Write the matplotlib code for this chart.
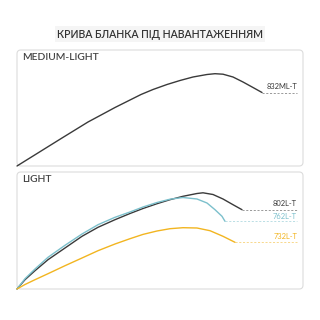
import matplotlib
matplotlib.use("Agg")
import matplotlib.pyplot as plt
from matplotlib.patches import FancyBboxPatch

# Blank bend curves (x along rod, y = rise), box-relative px
ml_x = [0, 8, 18, 31, 45, 58, 71, 85, 98, 111, 124, 136, 150, 163, 176, 190,
        198, 206, 216, 226, 236, 245]
ml_y = [0, 5, 11.2, 19.3, 28, 36, 44, 51.5, 58.5, 65, 71.5, 76.5, 81.5, 85.5,
        89, 91.5, 92.3, 91.8, 89, 84, 78.5, 73.5]

l802_x = [0, 8, 18, 31, 48, 65, 81, 98, 113, 126, 140, 153, 166, 180, 186,
          196, 206, 216, 225]
l802_y = [0, 9.3, 18.3, 29.3, 41, 52.7, 61.7, 69.3, 75.5, 80.5, 85.3, 89.3,
          92.7, 95.5, 96.2, 94.5, 90, 84.3, 79.3]
l762_x = [0, 8, 18, 31, 48, 65, 81, 98, 113, 126, 140, 153, 166, 180, 190,
          198, 205, 208]
l762_y = [0, 10.3, 20, 31.7, 43.7, 55, 64.3, 71.7, 77, 82, 86.5, 89.8, 91.5,
          90, 86, 79.3, 72.7, 67.7]
l732_x = [0, 8, 18, 31, 48, 65, 81, 98, 113, 126, 140, 153, 166, 180, 193,
          206, 218]
l732_y = [0, 4.5, 9.3, 15.3, 23.3, 31, 38.3, 45, 50.3, 54.6, 58, 60.3, 61.3,
          61, 58.3, 52.7, 46.7]

title = "КРИВА БЛАНКА ПІД НАВАНТАЖЕННЯМ"
groups = ["MEDIUM-LIGHT", "LIGHT"]
labels_ml = ["832ML-T"]
labels_l = ["802L-T", "762L-T", "732L-T"]

DARK = "#3a3a3a"
CYAN = "#7cc0cc"
YELLOW = "#f2b520"

W = H = 320.0
fig = plt.figure(figsize=(3.2, 3.2), dpi=100)
fig.patch.set_facecolor("white")
plt.rcParams["font.family"] = ["Lato", "DejaVu Sans"]

fig.text(0.5, 1 - 34 / H, title, ha="center", va="center", fontsize=7.6,
         color="#333333", fontweight="semibold",
         bbox=dict(facecolor="#f5f5f5", edgecolor="none", pad=1.5))


def make_box(top, bottom, name):
    left, right = 17, 303
    box = FancyBboxPatch(
        (left / W, 1 - bottom / H), (right - left) / W, (bottom - top) / H,
        boxstyle="round,pad=0,rounding_size=0.012", transform=fig.transFigure,
        facecolor="white", edgecolor="#dcdcdc", lw=0.8, zorder=-5)
    fig.patches.append(box)
    ax = fig.add_axes([left / W, 1 - bottom / H, (right - left) / W, (bottom - top) / H])
    ax.set_zorder(2)
    ax.set_xlim(0, right - left)
    ax.set_ylim(0, bottom - top)
    ax.axis("off")
    ax.text(5, bottom - top - 8, name, ha="left", va="center", fontsize=7.4,
            color="#444444", fontweight="semibold")
    return ax


def draw(ax, xs, ys, color, label, label_dy=5):
    ax.plot(xs, ys, color=color, lw=1.0, solid_capstyle="round",
            solid_joinstyle="round", clip_on=False)
    ax.plot([xs[-1], 280], [ys[-1], ys[-1]], color=color, lw=0.6, alpha=0.6,
            linestyle=(0, (2.5, 2)))
    ax.text(280, ys[-1] + label_dy, label, ha="right", va="center",
            fontsize=5.4, color=color)


ax1 = make_box(50, 166, groups[0])
draw(ax1, ml_x, ml_y, DARK, labels_ml[0], 6)

ax2 = make_box(172, 289, groups[1])
draw(ax2, l802_x, l802_y, DARK, labels_l[0], 6)
draw(ax2, l762_x, l762_y, CYAN, labels_l[1], 4.5)
draw(ax2, l732_x, l732_y, YELLOW, labels_l[2], 5.5)

fig.savefig("out.png", dpi=100, facecolor="white")
